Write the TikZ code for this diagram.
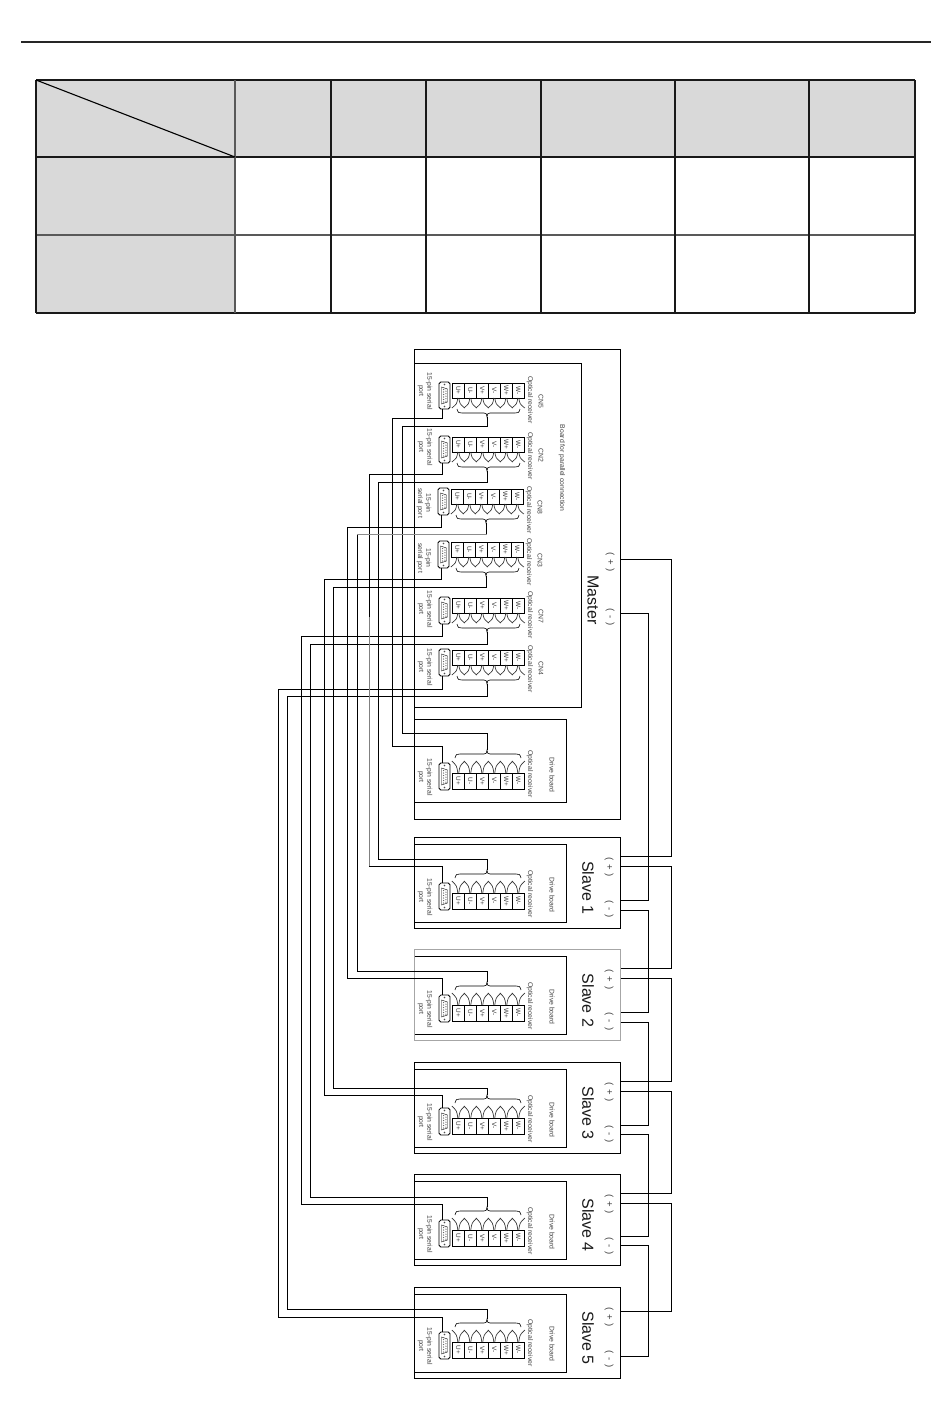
\documentclass[tikz,border=0pt]{standalone}
\usepackage{fontspec}
\setmainfont{Liberation Sans}
\tikzset{
  wire/.style={draw=black,line width=0.9pt},
  box/.style={draw=black,line width=0.9pt},
  dbbox/.style={draw=black,line width=0.8pt,rounded corners=1.8pt,minimum width=11pt,minimum height=27pt,inner sep=0pt},
  cellline/.style={draw=black,line width=0.5pt},
  fan/.style={draw=black!80,line width=0.65pt},
  small/.style={rotate=-90,font=\fontsize{6.8}{8.4}\selectfont,text=black!75,inner sep=0pt,align=center},
  celltext/.style={rotate=-90,font=\fontsize{6.4}{7}\selectfont,text=black!80,inner sep=0pt},
  big/.style={rotate=-90,font=\fontsize{16}{18}\selectfont,text=black!90,inner sep=0pt},
  sign/.style={rotate=-90,font=\fontsize{9.5}{11}\selectfont,text=black!75,inner sep=0pt},
  tbl/.style={line width=1.2pt,draw=black!90},
  tblgray/.style={line width=1.7pt,draw=black!65},
}
% connector shell
\newcommand{\dbshell}[1]{%
  \node[dbbox] (db#1) at (444.5,13.5) {};
  \draw[line width=0.4pt] (441.5,5)--(447.5,7)--(447.5,20)--(441.5,22)--cycle;
  \foreach \yy in {7.5,10,12.5,15,17.5,20}{\fill[black!60] (443.6,\yy) circle (0.65pt);\fill[black!60] (445.9,\yy-0.8) circle (0.65pt);}
  \fill[black!70] (444.5,2.5) circle (0.8pt);\fill[black!70] (444.5,24.5) circle (0.8pt);
}
% terminals: #1 name, #2 far edge, #3 near edge, #4 fan end
\newcommand{\terminals}[4]{%
  \foreach \lab [count=\i from 0] in {U+,U-,V+,V-,W+,W-}{
    \pgfmathsetmacro{\xa}{452.3+12*\i}
    \pgfmathsetmacro{\xb}{\xa+12}
    \pgfmathsetmacro{\xc}{\xa+6}
    \pgfmathsetmacro{\ym}{(#2+#3)/2}
    \draw[cellline] (\xa,#2) rectangle (\xb,#3);
    \node[celltext] (#1t\i) at (\xc,\ym) {\lab};
    \draw[fan] (\xc-0.5,#3) .. controls (\xc-1.5,#3+0.6*#4-0.6*#3) .. (\xc-6.5,#4);
    \draw[fan] (\xc+0.5,#3) .. controls (\xc+1.5,#3+0.6*#4-0.6*#3) .. (\xc+6.5,#4);
  }
}
% master module, local y origin = top of connector
\newcommand{\masterunit}[7]{% name, y, xshift, port text, port centre, CN label, optical centre
\begin{scope}[shift={(#3,#2)}]
  \dbshell{#1}
  \terminals{#1}{1}{16}{26}
  \draw[line width=0.6pt] (457,27) .. controls (458,31) and (459,31) .. (462,31) -- (484,31) .. controls (486,31) and (487,32) .. (487,35) .. controls (487,32) and (488,31) .. (490,31) -- (515,31) .. controls (518,31) and (519,31) .. (520,27);
  \coordinate (tip#1) at (487,35);
  \coordinate (dbout#1) at (442,27);
  \node[small] (port#1) at (425,#5) {#4};
  \node[small] (opt#1) at (530,#7) {Optical receiver};
  \node[small] (cn#1) at (541,19) {#6};
\end{scope}}
% drive board module, local y origin = top of connector
\newcommand{\driveunit}[2]{%
\begin{scope}[shift={(0,#2)}]
  \dbshell{#1}
  \terminals{#1}{26}{10}{-2}
  \draw[line width=0.6pt] (455,-5) .. controls (456,-9) and (457,-9) .. (460,-9) -- (484,-9) .. controls (486,-9) and (487,-10) .. (487,-13) .. controls (487,-10) and (488,-9) .. (490,-9) -- (516,-9) .. controls (519,-9) and (520,-9) .. (521,-5);
  \coordinate (tip#1) at (487,-13);
  \coordinate (dbin#1) at (442,0);
  \node[small] (port#1) at (425,14) {15-pin serial\\port};
  \node[small] (opt#1) at (530,11) {Optical receiver};
  \node[small] (drv#1) at (552,12) {Drive board};
\end{scope}}
% slave: name, offset, title, outer style
\newcommand{\slaveunit}[4]{%
\begin{scope}[shift={(0,#2)}]
  \draw[box,#4] (414.5,837) rectangle (620.5,928);
  \draw[box] (414.5,844) -- (566,844) -- (566,922) -- (414.5,922);
  \node[big] (title#1) at (588,888) {#3};
  \node[sign] (plus#1) at (609,867) {(\hspace{4pt}+\hspace{4pt})};
  \node[sign] (minus#1) at (609,909) {(\hspace{4pt}-\hspace{4pt})};
\end{scope}}
\newcommand{\wireL}[5]{\draw[wire] (#1) |- (#3,#2) -- (#3,#4) -| (#5);}
\newcommand{\wireR}[3]{\draw[wire] (#1) -- (#1 -| #2) -- (#3 -| #2) -- (#3);}
\begin{document}
\begin{tikzpicture}[x=1pt,y=-1pt]
\useasboundingbox (0,0) rectangle (950,1424);
\fill[white] (0,0) rectangle (950,1424);
% page rule
\coordinate (ruleL) at (21,42);
\coordinate (ruleR) at (931,42);
\draw[line width=1.8pt,black!85] (ruleL) -- (ruleR);
% table
\fill[black!15] (36,80) rectangle (915,157);
\fill[black!15] (36,157) rectangle (235,313);
\draw[tbl] (36,80) -- (915,80);
\draw[tbl,line width=1.6pt] (36,157) -- (915,157);
\draw[tblgray,line width=1.5pt] (36,235) -- (915,235);
\draw[tbl,line width=1.5pt] (36,313) -- (915,313);
\draw[tbl,line width=1.6pt] (36,80) -- (36,313);
\draw[tblgray] (235,80) -- (235,313);
\foreach \xx in {331,426,541,675,809}{\draw[tbl] (\xx,80) -- (\xx,313);}
\draw[tbl,line width=1.6pt] (915,80) -- (915,313);
\coordinate (diagA) at (36,80);
\coordinate (diagB) at (235,157);
\draw[line width=1.1pt,black] (diagA) -- (diagB);
% master
\draw[box] (414.5,349.5) rectangle (620.5,819);
\draw[box] (414.5,363) -- (581,363) -- (581,707) -- (414.5,707);
\draw[box] (414.5,719) -- (566,719) -- (566,802) -- (414.5,802);
\node[small] (boardtext) at (562,468) {Board for parallel connection};
\node[big] (mastertitle) at (593,600) {Master};
\node[sign] (plusM) at (610,562) {(\hspace{4pt}+\hspace{4pt})};
\node[sign] (minusM) at (610,617) {(\hspace{4pt}-\hspace{4pt})};
\masterunit{cnA}{382}{0}{15-pin serial\\port}{9}{CN5}{18}
\masterunit{cnB}{436}{0}{15-pin serial\\port}{11}{CN2}{20}
\masterunit{cnC}{488}{-1}{15-pin\\serial port}{15}{CN8}{22}
\masterunit{cnD}{541}{-1}{15-pin\\serial port}{17}{CN3}{21}
\masterunit{cnE}{597}{0}{15-pin serial\\port}{12}{CN7}{18}
\masterunit{cnF}{649}{0}{15-pin serial\\port}{18}{CN4}{20}
\driveunit{dm}{763}
% slaves
\slaveunit{a}{0}{Slave 1}{}
\slaveunit{b}{112.5}{Slave 2}{draw=black!35}
\slaveunit{c}{225}{Slave 3}{}
\slaveunit{d}{337}{Slave 4}{}
\slaveunit{e}{450}{Slave 5}{}
\driveunit{da}{883}
\driveunit{db}{995}
\driveunit{dc}{1108}
\driveunit{dd}{1220}
\driveunit{de}{1332}
% left wiring
\wireL{dboutcnA}{418}{392.5}{746}{dbindm}
\wireL{tipcnA}{426}{402.5}{733}{tipdm}
\wireL{dboutcnB}{474}{369.5}{866}{dbinda}
\wireL{tipcnB}{482}{378.5}{859}{tipda}
\wireL{dboutcnC}{527}{347}{978}{dbindb}
\wireL{tipcnC}{534}{357}{971}{tipdb}
\wireL{dboutcnD}{579}{324}{1095}{dbindc}
\wireL{tipcnD}{587}{333}{1088}{tipdc}
\wireL{dboutcnE}{636}{301}{1204}{dbindd}
\wireL{tipcnE}{644}{310}{1197}{tipdd}
\wireL{dboutcnF}{689}{278}{1317}{dbinde}
\wireL{tipcnF}{696}{287}{1309}{tipde}
% parts of two wires print lighter in the reference
\draw[draw=black!50,line width=0.9pt] (369.5,617) -- (369.5,866);
\draw[draw=black!45,line width=0.9pt] (357,534) -- (487,534);
% right wiring
\coordinate (busP) at (671.5,0);
\coordinate (busM) at (648,0);
\coordinate (pm) at (620.5,559);
\coordinate (mm) at (620.5,613);
\coordinate (pa1) at (620.5,856);\coordinate (pa2) at (620.5,866);
\coordinate (ma1) at (620.5,900);\coordinate (ma2) at (620.5,910);
\coordinate (pb1) at (620.5,968);\coordinate (pb2) at (620.5,978);
\coordinate (mb1) at (620.5,1012);\coordinate (mb2) at (620.5,1022);
\coordinate (pc1) at (620.5,1081);\coordinate (pc2) at (620.5,1091);
\coordinate (mc1) at (620.5,1125);\coordinate (mc2) at (620.5,1134);
\coordinate (pd1) at (620.5,1193);\coordinate (pd2) at (620.5,1203);
\coordinate (md1) at (620.5,1236);\coordinate (md2) at (620.5,1245);
\coordinate (pe) at (620.5,1311);
\coordinate (me) at (620.5,1356);
\wireR{pm}{busP}{pa1}
\wireR{pa2}{busP}{pb1}
\wireR{pb2}{busP}{pc1}
\wireR{pc2}{busP}{pd1}
\wireR{pd2}{busP}{pe}
\wireR{mm}{busM}{ma1}
\wireR{ma2}{busM}{mb1}
\wireR{mb2}{busM}{mc1}
\wireR{mc2}{busM}{md1}
\wireR{md2}{busM}{me}
\end{tikzpicture}
\end{document}
